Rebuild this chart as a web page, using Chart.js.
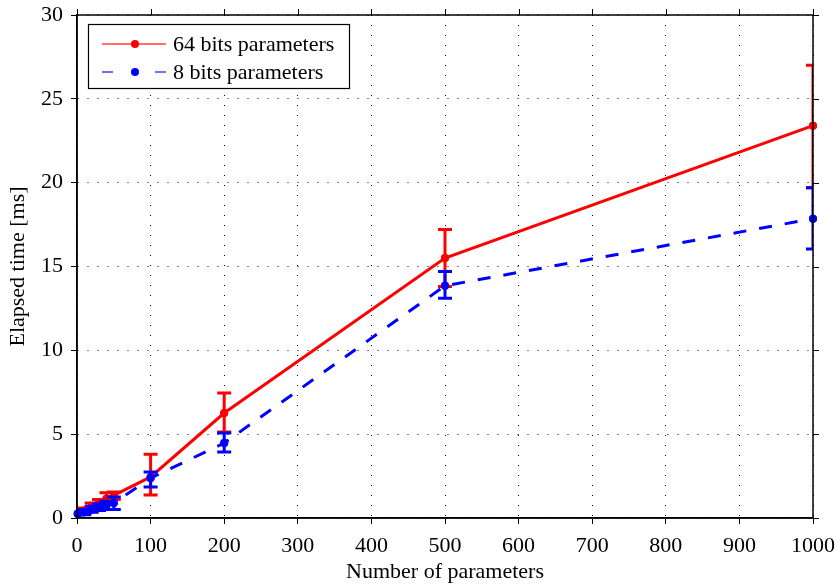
<!DOCTYPE html>
<html>
<head>
<meta charset="utf-8">
<script src="https://cdn.jsdelivr.net/npm/chart.js@4.4.1/dist/chart.umd.min.js"></script>
<style>
  html, body { margin: 0; padding: 0; background: #fff; }
  #wrap { width: 836px; height: 585px; }
</style>
</head>
<body>
<div id="wrap"><canvas id="c" width="836" height="585"></canvas></div>
<script>
// ---- data ----
const xValues   = [1, 10, 20, 30, 40, 50, 100, 200, 500, 1000];
const mean64    = [0.25, 0.45, 0.7, 0.9, 1.15, 1.35, 2.45, 6.26, 15.5, 23.4];
const low64     = [0.2, 0.3, 0.5, 0.65, 0.9, 1.1, 1.37, 5.13, 13.8, 19.7];
const high64    = [0.3, 0.6, 0.9, 1.1, 1.5, 1.55, 3.8, 7.45, 17.2, 27.0];
const mean8     = [0.25, 0.35, 0.5, 0.65, 0.75, 0.9, 2.38, 4.47, 13.85, 17.85];
const low8      = [0.2, 0.2, 0.35, 0.45, 0.5, 0.5, 1.85, 3.94, 13.1, 16.05];
const high8     = [0.3, 0.5, 0.7, 0.85, 1.0, 1.25, 2.74, 5.07, 14.7, 19.7];
const label64   = '64 bits parameters';
const label8    = '8 bits parameters';
const xTitle    = 'Number of parameters';
const yTitle    = 'Elapsed time [ms]';
const xTicks    = [0, 100, 200, 300, 400, 500, 600, 700, 800, 900, 1000];
const yTicks    = [0, 5, 10, 15, 20, 25, 30];

const FONT = "'Liberation Serif', 'DejaVu Serif', serif";
const FS = 22;
const RED = '#ff0000';
const BLUE = '#0000ff';

const toPoints = (xs, ys) => xs.map((x, i) => ({x: x, y: ys[i]}));
const errLow = [low64, low8];
const errHigh = [high64, high8];

const errorBarPlugin = {
  id: 'errorBars',
  afterDatasetDraw(chart, args) {
    const i = args.index;
    const meta = args.meta;
    const ds = chart.data.datasets[i];
    const xs = chart.scales.x, ys = chart.scales.y;
    const ctx = chart.ctx;
    const ca = chart.chartArea;
    ctx.save();
    ctx.beginPath();
    ctx.rect(ca.left, ca.top - 2, ca.right - ca.left, ca.bottom - ca.top + 4);
    ctx.clip();
    ctx.strokeStyle = ds.borderColor;
    ctx.lineWidth = 3;
    ctx.setLineDash([]);
    ctx.lineCap = 'butt';
    const cap = 7;
    xValues.forEach((xv, k) => {
      const px = xs.getPixelForValue(xv);
      const pl = ys.getPixelForValue(errLow[i][k]);
      const ph = ys.getPixelForValue(errHigh[i][k]);
      ctx.beginPath();
      ctx.moveTo(px, pl); ctx.lineTo(px, ph);
      ctx.moveTo(px - cap, pl); ctx.lineTo(px + cap, pl);
      ctx.moveTo(px - cap, ph); ctx.lineTo(px + cap, ph);
      ctx.stroke();
    });
    ctx.restore();
    ctx.save();
    ctx.fillStyle = ds.borderColor;
    meta.data.forEach(pt => {
      ctx.beginPath();
      ctx.arc(pt.x, pt.y, 4, 0, Math.PI * 2);
      ctx.fill();
    });
    ctx.restore();
  }
};

const framePlugin = {
  id: 'frame',
  afterDraw(chart) {
    const ctx = chart.ctx;
    const ca = chart.chartArea;
    const xs = chart.scales.x, ys = chart.scales.y;
    ctx.save();
    ctx.strokeStyle = '#000';
    ctx.lineWidth = 1.5;
    ctx.setLineDash([]);
    ctx.strokeRect(ca.left, ca.top, ca.right - ca.left, ca.bottom - ca.top);
    ctx.lineWidth = 1;
    const tl = 6;
    ctx.beginPath();
    xTicks.forEach(v => {
      const p = Math.round(xs.getPixelForValue(v)) + 0.5;
      ctx.moveTo(p, ca.top); ctx.lineTo(p, ca.top - tl);
    });
    yTicks.forEach(v => {
      const p = Math.round(ys.getPixelForValue(v)) + 0.5;
      ctx.moveTo(ca.right, p); ctx.lineTo(ca.right + tl, p);
    });
    ctx.stroke();

    // legend
    const bx = 88, by = 24, bw = 261, bh = 64;
    ctx.fillStyle = '#fff';
    ctx.fillRect(bx, by, bw, bh);
    ctx.lineWidth = 1.2;
    ctx.strokeStyle = '#000';
    ctx.strokeRect(bx + 0.5, by + 0.5, bw, bh);
    const rows = [{c: RED, t: chart.data.datasets[0].label, y: 44, dashed: false},
                  {c: BLUE, t: chart.data.datasets[1].label, y: 72, dashed: true}];
    rows.forEach(r => {
      ctx.strokeStyle = r.c;
      ctx.globalAlpha = 0.75;
      ctx.lineWidth = 1.5;
      ctx.beginPath();
      if (r.dashed) {
        ctx.moveTo(102, r.y); ctx.lineTo(113, r.y);
        ctx.moveTo(155, r.y); ctx.lineTo(166, r.y);
      } else {
        ctx.moveTo(102, r.y); ctx.lineTo(166, r.y);
      }
      ctx.stroke();
      ctx.globalAlpha = 1;
      ctx.fillStyle = r.c;
      ctx.beginPath();
      ctx.arc(135, r.y, 4, 0, Math.PI * 2);
      ctx.fill();
      ctx.fillStyle = '#000';
      ctx.font = FS + 'px ' + FONT;
      ctx.textBaseline = 'middle';
      ctx.textAlign = 'left';
      ctx.fillText(r.t, 173, r.y + 1);
    });
    ctx.restore();
  }
};

const gridCommon = {
  color: '#000',
  lineWidth: 1,
  drawTicks: true,
  tickLength: 6,
  tickColor: '#000',
  tickWidth: 1,
};

new Chart(document.getElementById('c'), {
  type: 'line',
  data: {
    datasets: [
      {
        label: label64,
        data: toPoints(xValues, mean64),
        borderColor: RED,
        backgroundColor: RED,
        borderWidth: 3,
        pointRadius: 4,
        pointBorderWidth: 0,
        pointBackgroundColor: RED,
        tension: 0,
        clip: false,
        order: 2,
      },
      {
        label: label8,
        data: toPoints(xValues, mean8),
        borderColor: BLUE,
        backgroundColor: BLUE,
        borderWidth: 3,
        borderDash: [13, 13],
        pointRadius: 4,
        pointBorderWidth: 0,
        pointBackgroundColor: BLUE,
        tension: 0,
        clip: false,
        order: 1,
      }
    ]
  },
  options: {
    responsive: false,
    animation: false,
    devicePixelRatio: 1,
    layout: { padding: { left: 0, top: 15, right: 23, bottom: 0 } },
    plugins: {
      legend: { display: false },
      tooltip: { enabled: false },
    },
    scales: {
      x: {
        type: 'linear',
        min: 0, max: 1000,
        afterFit: s => { s.height = 67; s.paddingLeft = 0; s.paddingRight = 0; },
        afterBuildTicks: s => { s.ticks = xTicks.map(v => ({value: v})); },
        grid: gridCommon,
        border: { display: true, color: '#000', width: 1.5, dash: [1, 9] },
        ticks: { color: '#000', padding: 9, maxRotation: 0, callback: v => String(v), font: { family: FONT, size: FS } },
        title: { display: true, text: xTitle, color: '#000', padding: { top: 0, bottom: 0 }, font: { family: FONT, size: FS } },
      },
      y: {
        type: 'linear',
        min: 0, max: 30,
        afterFit: s => { s.width = 77; s.paddingTop = 0; s.paddingBottom = 0; },
        afterBuildTicks: s => { s.ticks = yTicks.map(v => ({value: v})); },
        grid: gridCommon,
        border: { display: true, color: '#000', width: 1.5, dash: [1, 9] },
        ticks: { color: '#000', padding: 8, callback: v => String(v), font: { family: FONT, size: FS } },
        title: { display: true, text: yTitle, color: '#000', padding: { top: 5, bottom: 0 }, font: { family: FONT, size: FS } },
      }
    }
  },
  plugins: [errorBarPlugin, framePlugin]
});
</script>
</body>
</html>
